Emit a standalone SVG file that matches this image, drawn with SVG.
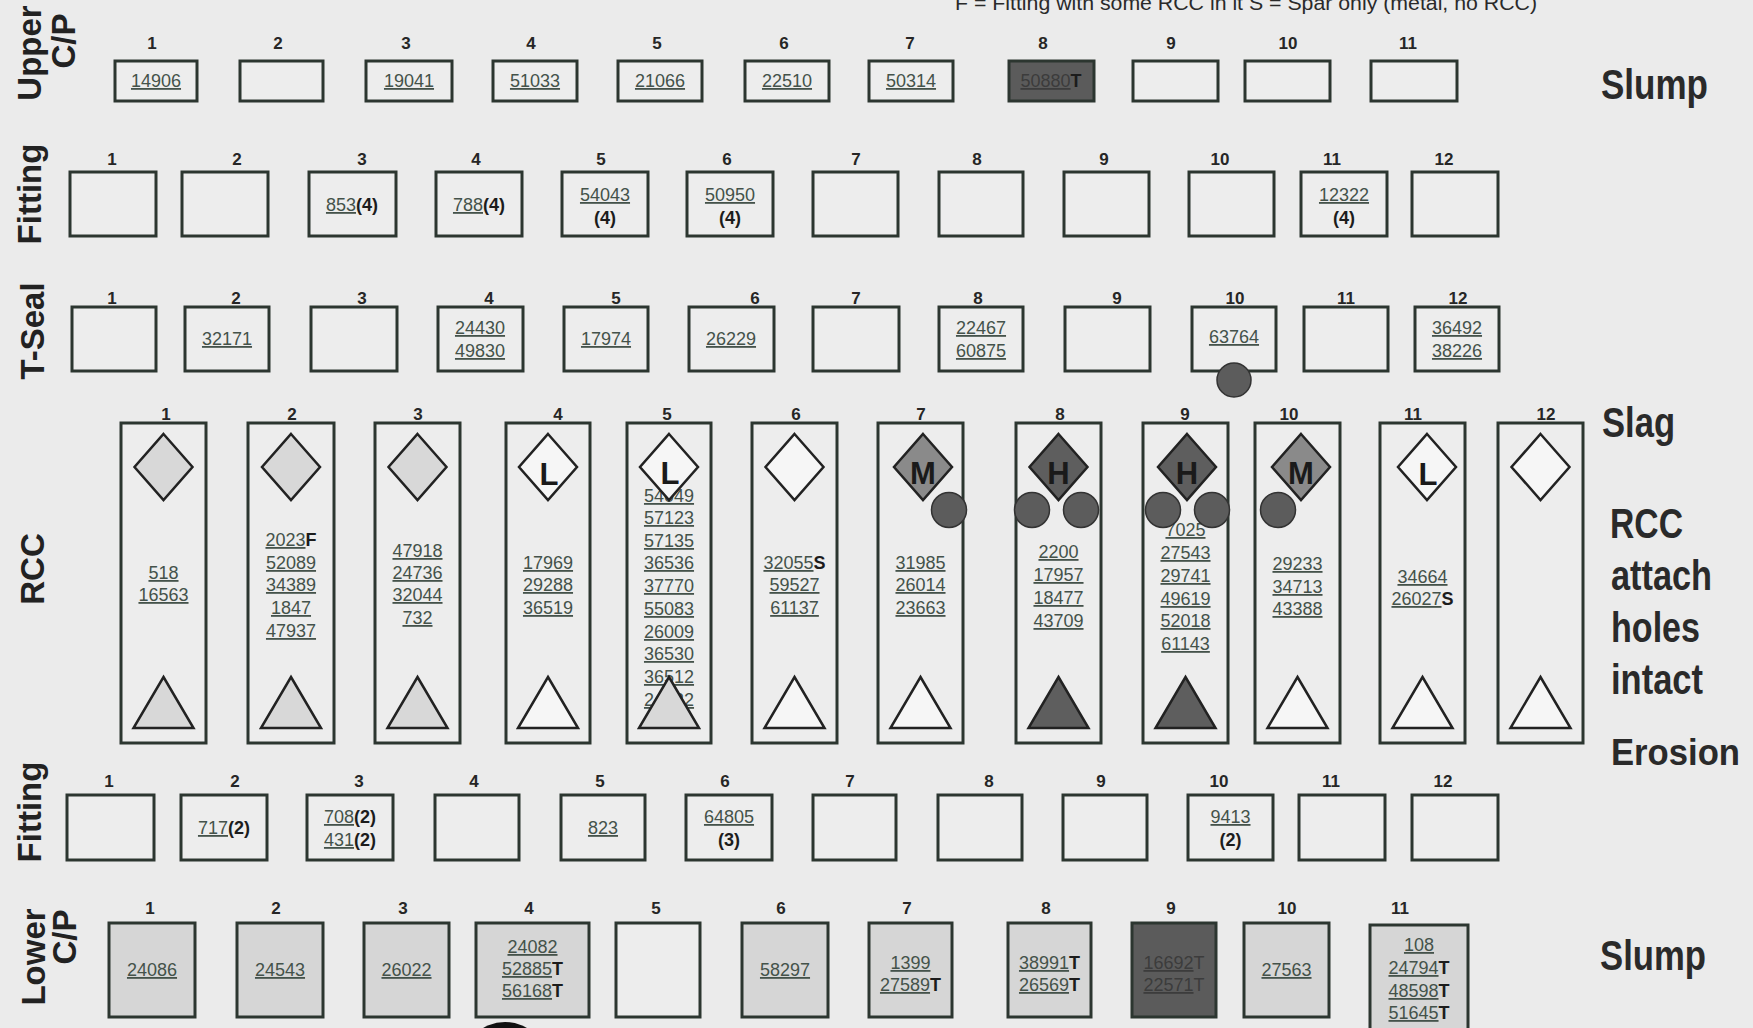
<svg xmlns="http://www.w3.org/2000/svg" width="1753" height="1028" viewBox="0 0 1753 1028">
<style>
.bg{fill:#ebebeb}
.box{fill:#ededed;stroke:#2c3630;stroke-width:3}
.boxg{fill:#d6d6d6;stroke:#2c3630;stroke-width:3}
.boxd{fill:#5b5b5b;stroke:#2c3630;stroke-width:3}
.n{font-family:"Liberation Sans",Arial,sans-serif;font-size:18px;fill:#44524a;text-anchor:middle}
.u{text-decoration:underline}
.b{font-weight:bold;fill:#1c1c1c}
.nd{fill:#3c3c3c}
.col{font-family:"Liberation Sans",Arial,sans-serif;font-size:17px;font-weight:bold;fill:#262626;text-anchor:middle}
.row{font-family:"Liberation Sans",Arial,sans-serif;font-size:33px;font-weight:bold;fill:#222;text-anchor:middle}
.side{font-family:"Liberation Sans",Arial,sans-serif;font-size:42px;font-weight:bold;fill:#2a2a2a}
.shp{stroke:#222;stroke-width:2.5}
.w{fill:#f6f6f6}
.l{fill:#d8d8d8}
.m{fill:#8a8a8a}
.h{fill:#5e5e5e}
.lt{font-family:"Liberation Sans",Arial,sans-serif;font-size:31px;font-weight:bold;fill:#1a1a1a;text-anchor:middle}
.dot{fill:#5c5c5c;stroke:#333;stroke-width:1.5}
.leg{font-family:"Liberation Sans",Arial,sans-serif;font-size:20px;fill:#2a2a2a}
</style>
<rect class="bg" x="0" y="0" width="1753" height="1028"/>

<text class="leg" x="955" y="10" textLength="582" lengthAdjust="spacingAndGlyphs">F = Fitting with some RCC in it   S = Spar only (metal, no RCC)</text>

<!-- Row labels -->
<g id="row-labels">
<text class="row" transform="translate(41,53) rotate(-90)">Upper</text>
<text class="row" transform="translate(75,41) rotate(-90)">C/P</text>
<text class="row" transform="translate(41,194) rotate(-90)">Fitting</text>
<text class="row" transform="translate(44,331) rotate(-90)">T-Seal</text>
<text class="row" transform="translate(44,569) rotate(-90)">RCC</text>
<text class="row" transform="translate(41,812) rotate(-90)">Fitting</text>
<text class="row" transform="translate(45,957) rotate(-90)">Lower</text>
<text class="row" transform="translate(76,937) rotate(-90)">C/P</text>
</g>

<!-- Side labels -->
<g id="side-labels">
<text class="side" x="1601" y="99" textLength="107" lengthAdjust="spacingAndGlyphs">Slump</text>
<text class="side" x="1602" y="437" textLength="73" lengthAdjust="spacingAndGlyphs">Slag</text>
<text class="side" x="1610" y="538" textLength="73" lengthAdjust="spacingAndGlyphs">RCC</text>
<text class="side" x="1611" y="590" textLength="101" lengthAdjust="spacingAndGlyphs">attach</text>
<text class="side" x="1611" y="642" textLength="89" lengthAdjust="spacingAndGlyphs">holes</text>
<text class="side" x="1611" y="694" textLength="92" lengthAdjust="spacingAndGlyphs">intact</text>
<text class="side" x="1611" y="765" style="font-size:37px" textLength="129" lengthAdjust="spacingAndGlyphs">Erosion</text>
<text class="side" x="1600" y="970" textLength="106" lengthAdjust="spacingAndGlyphs">Slump</text>
</g>

<!-- Upper C/P -->
<g id="upper-cp">
<g id="ucp1"><text class="col" x="152" y="49">1</text><rect class="box" x="115" y="61" width="82" height="40"/><text class="n" x="156" y="87"><tspan class="u">14906</tspan></text></g>
<g id="ucp2"><text class="col" x="278" y="49">2</text><rect class="box" x="240" y="61" width="83" height="40"/></g>
<g id="ucp3"><text class="col" x="406" y="49">3</text><rect class="box" x="366" y="61" width="86" height="40"/><text class="n" x="409" y="87"><tspan class="u">19041</tspan></text></g>
<g id="ucp4"><text class="col" x="531" y="49">4</text><rect class="box" x="493" y="61" width="84" height="40"/><text class="n" x="535" y="87"><tspan class="u">51033</tspan></text></g>
<g id="ucp5"><text class="col" x="657" y="49">5</text><rect class="box" x="618" y="61" width="84" height="40"/><text class="n" x="660" y="87"><tspan class="u">21066</tspan></text></g>
<g id="ucp6"><text class="col" x="784" y="49">6</text><rect class="box" x="745" y="61" width="84" height="40"/><text class="n" x="787" y="87"><tspan class="u">22510</tspan></text></g>
<g id="ucp7"><text class="col" x="910" y="49">7</text><rect class="box" x="869" y="61" width="84" height="40"/><text class="n" x="911" y="87"><tspan class="u">50314</tspan></text></g>
<g id="ucp8"><text class="col" x="1043" y="49">8</text><rect class="boxd" x="1009" y="61" width="85" height="40"/><text class="n" x="1051" y="87"><tspan class="u nd">50880</tspan><tspan class="b">T</tspan></text></g>
<g id="ucp9"><text class="col" x="1171" y="49">9</text><rect class="box" x="1133" y="61" width="85" height="40"/></g>
<g id="ucp10"><text class="col" x="1288" y="49">10</text><rect class="box" x="1245" y="61" width="85" height="40"/></g>
<g id="ucp11"><text class="col" x="1408" y="49">11</text><rect class="box" x="1371" y="61" width="86" height="40"/></g>
</g>

<!-- Upper Fitting -->
<g id="upper-fitting">
<g id="uf1"><text class="col" x="112" y="165">1</text><rect class="box" x="70" y="172" width="86" height="64"/></g>
<g id="uf2"><text class="col" x="237" y="165">2</text><rect class="box" x="182" y="172" width="86" height="64"/></g>
<g id="uf3"><text class="col" x="362" y="165">3</text><rect class="box" x="309" y="172" width="87" height="64"/><text class="n" x="352" y="211"><tspan class="u">853</tspan><tspan class="b">(4)</tspan></text></g>
<g id="uf4"><text class="col" x="476" y="165">4</text><rect class="box" x="436" y="172" width="86" height="64"/><text class="n" x="479" y="211"><tspan class="u">788</tspan><tspan class="b">(4)</tspan></text></g>
<g id="uf5"><text class="col" x="601" y="165">5</text><rect class="box" x="562" y="172" width="86" height="64"/><text class="n" x="605" y="201"><tspan class="u">54043</tspan></text><text class="n b" x="605" y="224">(4)</text></g>
<g id="uf6"><text class="col" x="727" y="165">6</text><rect class="box" x="687" y="172" width="86" height="64"/><text class="n" x="730" y="201"><tspan class="u">50950</tspan></text><text class="n b" x="730" y="224">(4)</text></g>
<g id="uf7"><text class="col" x="856" y="165">7</text><rect class="box" x="813" y="172" width="85" height="64"/></g>
<g id="uf8"><text class="col" x="977" y="165">8</text><rect class="box" x="939" y="172" width="84" height="64"/></g>
<g id="uf9"><text class="col" x="1104" y="165">9</text><rect class="box" x="1064" y="172" width="85" height="64"/></g>
<g id="uf10"><text class="col" x="1220" y="165">10</text><rect class="box" x="1189" y="172" width="85" height="64"/></g>
<g id="uf11"><text class="col" x="1332" y="165">11</text><rect class="box" x="1301" y="172" width="86" height="64"/><text class="n" x="1344" y="201"><tspan class="u">12322</tspan></text><text class="n b" x="1344" y="224">(4)</text></g>
<g id="uf12"><text class="col" x="1444" y="165">12</text><rect class="box" x="1412" y="172" width="86" height="64"/></g>
</g>

<!-- T-Seal -->
<g id="tseal">
<g id="ts1"><text class="col" x="112" y="304">1</text><rect class="box" x="72" y="307" width="84" height="64"/></g>
<g id="ts2"><text class="col" x="236" y="304">2</text><rect class="box" x="185" y="307" width="84" height="64"/><text class="n" x="227" y="345"><tspan class="u">32171</tspan></text></g>
<g id="ts3"><text class="col" x="362" y="304">3</text><rect class="box" x="311" y="307" width="86" height="64"/></g>
<g id="ts4"><text class="col" x="489" y="304">4</text><rect class="box" x="438" y="307" width="85" height="64"/><text class="n" x="480" y="334"><tspan class="u">24430</tspan></text><text class="n" x="480" y="357"><tspan class="u">49830</tspan></text></g>
<g id="ts5"><text class="col" x="616" y="304">5</text><rect class="box" x="564" y="307" width="84" height="64"/><text class="n" x="606" y="345"><tspan class="u">17974</tspan></text></g>
<g id="ts6"><text class="col" x="755" y="304">6</text><rect class="box" x="689" y="307" width="85" height="64"/><text class="n" x="731" y="345"><tspan class="u">26229</tspan></text></g>
<g id="ts7"><text class="col" x="856" y="304">7</text><rect class="box" x="813" y="307" width="86" height="64"/></g>
<g id="ts8"><text class="col" x="978" y="304">8</text><rect class="box" x="939" y="307" width="84" height="64"/><text class="n" x="981" y="334"><tspan class="u">22467</tspan></text><text class="n" x="981" y="357"><tspan class="u">60875</tspan></text></g>
<g id="ts9"><text class="col" x="1117" y="304">9</text><rect class="box" x="1065" y="307" width="85" height="64"/></g>
<g id="ts10"><text class="col" x="1235" y="304">10</text><rect class="box" x="1192" y="307" width="84" height="64"/><text class="n" x="1234" y="343"><tspan class="u">63764</tspan></text><circle class="dot" cx="1234" cy="380" r="17"/></g>
<g id="ts11"><text class="col" x="1346" y="304">11</text><rect class="box" x="1304" y="307" width="84" height="64"/></g>
<g id="ts12"><text class="col" x="1458" y="304">12</text><rect class="box" x="1415" y="307" width="84" height="64"/><text class="n" x="1457" y="334"><tspan class="u">36492</tspan></text><text class="n" x="1457" y="357"><tspan class="u">38226</tspan></text></g>
</g>

<!-- RCC -->
<g id="rcc">
<g id="rcc1"><text class="col" x="166" y="420">1</text><rect class="box" x="121" y="423" width="85" height="320"/>
<text class="n" x="163.5" y="579"><tspan class="u">518</tspan></text><text class="n" x="163.5" y="601"><tspan class="u">16563</tspan></text>
<polygon class="shp l" points="163.5,434 192.5,467 163.5,500 134.5,467"/><polygon class="shp l" points="163.5,677 193.5,728 133.5,728"/></g>

<g id="rcc2"><text class="col" x="292" y="420">2</text><rect class="box" x="248" y="423" width="86" height="320"/>
<text class="n" x="291" y="546"><tspan class="u">2023</tspan><tspan class="b">F</tspan></text><text class="n" x="291" y="569"><tspan class="u">52089</tspan></text><text class="n" x="291" y="591"><tspan class="u">34389</tspan></text><text class="n" x="291" y="614"><tspan class="u">1847</tspan></text><text class="n" x="291" y="637"><tspan class="u">47937</tspan></text>
<polygon class="shp l" points="291,434 320,467 291,500 262,467"/><polygon class="shp l" points="291,677 321,728 261,728"/></g>

<g id="rcc3"><text class="col" x="418" y="420">3</text><rect class="box" x="375" y="423" width="85" height="320"/>
<text class="n" x="417.5" y="557"><tspan class="u">47918</tspan></text><text class="n" x="417.5" y="579"><tspan class="u">24736</tspan></text><text class="n" x="417.5" y="601"><tspan class="u">32044</tspan></text><text class="n" x="417.5" y="624"><tspan class="u">732</tspan></text>
<polygon class="shp l" points="417.5,434 446.5,467 417.5,500 388.5,467"/><polygon class="shp l" points="417.5,677 447.5,728 387.5,728"/></g>

<g id="rcc4"><text class="col" x="558" y="420">4</text><rect class="box" x="506" y="423" width="84" height="320"/>
<text class="n" x="548" y="569"><tspan class="u">17969</tspan></text><text class="n" x="548" y="591"><tspan class="u">29288</tspan></text><text class="n" x="548" y="614"><tspan class="u">36519</tspan></text>
<polygon class="shp w" points="548,434 577,467 548,500 519,467"/><text class="lt" x="549" y="485">L</text><polygon class="shp w" points="548,677 578,728 518,728"/></g>

<g id="rcc5"><text class="col" x="667" y="420">5</text><rect class="box" x="627" y="423" width="84" height="320"/>
<text class="n" x="669" y="502"><tspan class="u">54049</tspan></text><text class="n" x="669" y="524"><tspan class="u">57123</tspan></text><text class="n" x="669" y="547"><tspan class="u">57135</tspan></text><text class="n" x="669" y="569"><tspan class="u">36536</tspan></text><text class="n" x="669" y="592"><tspan class="u">37770</tspan></text><text class="n" x="669" y="615"><tspan class="u">55083</tspan></text><text class="n" x="669" y="638"><tspan class="u">26009</tspan></text><text class="n" x="669" y="660"><tspan class="u">36530</tspan></text><text class="n" x="669" y="683"><tspan class="u">36512</tspan></text><text class="n" x="669" y="706"><tspan class="u">24632</tspan></text>
<polygon class="shp w" points="669,434 698,467 669,500 640,467"/><text class="lt" x="670" y="484">L</text><polygon class="shp l" points="669,677 699,728 639,728"/></g>

<g id="rcc6"><text class="col" x="796" y="420">6</text><rect class="box" x="752" y="423" width="85" height="320"/>
<text class="n" x="794.5" y="569"><tspan class="u">32055</tspan><tspan class="b">S</tspan></text><text class="n" x="794.5" y="591"><tspan class="u">59527</tspan></text><text class="n" x="794.5" y="614"><tspan class="u">61137</tspan></text>
<polygon class="shp w" points="794.5,434 823.5,467 794.5,500 765.5,467"/><polygon class="shp w" points="794.5,677 824.5,728 764.5,728"/></g>

<g id="rcc7"><text class="col" x="921" y="420">7</text><rect class="box" x="878" y="423" width="85" height="320"/>
<text class="n" x="920.5" y="569"><tspan class="u">31985</tspan></text><text class="n" x="920.5" y="591"><tspan class="u">26014</tspan></text><text class="n" x="920.5" y="614"><tspan class="u">23663</tspan></text>
<polygon class="shp m" points="923,434 952,467 923,500 894,467"/><text class="lt" x="923" y="484">M</text><circle class="dot" cx="949" cy="510" r="17.5"/><polygon class="shp w" points="920.5,677 950.5,728 890.5,728"/></g>

<g id="rcc8"><text class="col" x="1060" y="420">8</text><rect class="box" x="1016" y="423" width="85" height="320"/>
<text class="n" x="1058.5" y="558"><tspan class="u">2200</tspan></text><text class="n" x="1058.5" y="581"><tspan class="u">17957</tspan></text><text class="n" x="1058.5" y="604"><tspan class="u">18477</tspan></text><text class="n" x="1058.5" y="627"><tspan class="u">43709</tspan></text>
<polygon class="shp h" points="1058.5,434 1087.5,467 1058.5,500 1029.5,467"/><text class="lt" x="1058.5" y="484">H</text><circle class="dot" cx="1032" cy="510" r="17.5"/><circle class="dot" cx="1081" cy="510" r="17.5"/><polygon class="shp h" points="1058.5,677 1088.5,728 1028.5,728"/></g>

<g id="rcc9"><text class="col" x="1185" y="420">9</text><rect class="box" x="1143" y="423" width="85" height="320"/>
<text class="n" x="1185.5" y="536"><tspan class="u">7025</tspan></text><text class="n" x="1185.5" y="559"><tspan class="u">27543</tspan></text><text class="n" x="1185.5" y="582"><tspan class="u">29741</tspan></text><text class="n" x="1185.5" y="605"><tspan class="u">49619</tspan></text><text class="n" x="1185.5" y="627"><tspan class="u">52018</tspan></text><text class="n" x="1185.5" y="650"><tspan class="u">61143</tspan></text>
<polygon class="shp h" points="1187,434 1216,467 1187,500 1158,467"/><text class="lt" x="1187" y="484">H</text><circle class="dot" cx="1163" cy="510" r="17.5"/><circle class="dot" cx="1212" cy="510" r="17.5"/><polygon class="shp h" points="1185.5,677 1215.5,728 1155.5,728"/></g>

<g id="rcc10"><text class="col" x="1289" y="420">10</text><rect class="box" x="1255" y="423" width="85" height="320"/>
<text class="n" x="1297.5" y="570"><tspan class="u">29233</tspan></text><text class="n" x="1297.5" y="593"><tspan class="u">34713</tspan></text><text class="n" x="1297.5" y="615"><tspan class="u">43388</tspan></text>
<polygon class="shp m" points="1301,434 1330,467 1301,500 1272,467"/><text class="lt" x="1301" y="484">M</text><circle class="dot" cx="1278" cy="510" r="17.5"/><polygon class="shp w" points="1297.5,677 1327.5,728 1267.5,728"/></g>

<g id="rcc11"><text class="col" x="1413" y="420">11</text><rect class="box" x="1380" y="423" width="85" height="320"/>
<text class="n" x="1422.5" y="583"><tspan class="u">34664</tspan></text><text class="n" x="1422.5" y="605"><tspan class="u">26027</tspan><tspan class="b">S</tspan></text>
<polygon class="shp w" points="1427,434 1456,467 1427,500 1398,467"/><text class="lt" x="1428" y="485">L</text><polygon class="shp w" points="1422.5,677 1452.5,728 1392.5,728"/></g>

<g id="rcc12"><text class="col" x="1546" y="420">12</text><rect class="box" x="1498" y="423" width="85" height="320"/>
<polygon class="shp w" points="1540.5,434 1569.5,467 1540.5,500 1511.5,467"/><polygon class="shp w" points="1540.5,677 1570.5,728 1510.5,728"/></g>
</g>

<!-- Lower Fitting -->
<g id="lower-fitting">
<g id="lf1"><text class="col" x="109" y="787">1</text><rect class="box" x="67" y="795" width="87" height="65"/></g>
<g id="lf2"><text class="col" x="235" y="787">2</text><rect class="box" x="181" y="795" width="86" height="65"/><text class="n" x="224" y="834"><tspan class="u">717</tspan><tspan class="b">(2)</tspan></text></g>
<g id="lf3"><text class="col" x="359" y="787">3</text><rect class="box" x="307" y="795" width="86" height="65"/><text class="n" x="350" y="823"><tspan class="u">708</tspan><tspan class="b">(2)</tspan></text><text class="n" x="350" y="846"><tspan class="u">431</tspan><tspan class="b">(2)</tspan></text></g>
<g id="lf4"><text class="col" x="474" y="787">4</text><rect class="box" x="435" y="795" width="84" height="65"/></g>
<g id="lf5"><text class="col" x="600" y="787">5</text><rect class="box" x="561" y="795" width="84" height="65"/><text class="n" x="603" y="834"><tspan class="u">823</tspan></text></g>
<g id="lf6"><text class="col" x="725" y="787">6</text><rect class="box" x="686" y="795" width="86" height="65"/><text class="n" x="729" y="823"><tspan class="u">64805</tspan></text><text class="n b" x="729" y="846">(3)</text></g>
<g id="lf7"><text class="col" x="850" y="787">7</text><rect class="box" x="813" y="795" width="83" height="65"/></g>
<g id="lf8"><text class="col" x="989" y="787">8</text><rect class="box" x="938" y="795" width="84" height="65"/></g>
<g id="lf9"><text class="col" x="1101" y="787">9</text><rect class="box" x="1063" y="795" width="84" height="65"/></g>
<g id="lf10"><text class="col" x="1219" y="787">10</text><rect class="box" x="1188" y="795" width="85" height="65"/><text class="n" x="1230.5" y="823"><tspan class="u">9413</tspan></text><text class="n b" x="1230.5" y="846">(2)</text></g>
<g id="lf11"><text class="col" x="1331" y="787">11</text><rect class="box" x="1299" y="795" width="86" height="65"/></g>
<g id="lf12"><text class="col" x="1443" y="787">12</text><rect class="box" x="1412" y="795" width="86" height="65"/></g>
</g>

<!-- Lower C/P -->
<g id="lower-cp">
<g id="lcp1"><text class="col" x="150" y="914">1</text><rect class="boxg" x="109" y="923" width="86" height="94"/><text class="n" x="152" y="976"><tspan class="u">24086</tspan></text></g>
<g id="lcp2"><text class="col" x="276" y="914">2</text><rect class="boxg" x="237" y="923" width="86" height="94"/><text class="n" x="280" y="976"><tspan class="u">24543</tspan></text></g>
<g id="lcp3"><text class="col" x="403" y="914">3</text><rect class="boxg" x="364" y="923" width="85" height="94"/><text class="n" x="406.5" y="976"><tspan class="u">26022</tspan></text></g>
<g id="lcp4"><text class="col" x="529" y="914">4</text><rect class="boxg" x="476" y="923" width="113" height="94"/><text class="n" x="532.5" y="953"><tspan class="u">24082</tspan></text><text class="n" x="532.5" y="975"><tspan class="u">52885</tspan><tspan class="b">T</tspan></text><text class="n" x="532.5" y="997"><tspan class="u">56168</tspan><tspan class="b">T</tspan></text></g>
<g id="lcp5"><text class="col" x="656" y="914">5</text><rect class="box" x="616" y="923" width="84" height="94"/></g>
<g id="lcp6"><text class="col" x="781" y="914">6</text><rect class="boxg" x="742" y="923" width="86" height="94"/><text class="n" x="785" y="976"><tspan class="u">58297</tspan></text></g>
<g id="lcp7"><text class="col" x="907" y="914">7</text><rect class="boxg" x="869" y="923" width="83" height="94"/><text class="n" x="910.5" y="969"><tspan class="u">1399</tspan></text><text class="n" x="910.5" y="991"><tspan class="u">27589</tspan><tspan class="b">T</tspan></text></g>
<g id="lcp8"><text class="col" x="1046" y="914">8</text><rect class="boxg" x="1008" y="923" width="83" height="94"/><text class="n" x="1049.5" y="969"><tspan class="u">38991</tspan><tspan class="b">T</tspan></text><text class="n" x="1049.5" y="991"><tspan class="u">26569</tspan><tspan class="b">T</tspan></text></g>
<g id="lcp9"><text class="col" x="1171" y="914">9</text><rect class="boxd" x="1132" y="923" width="84" height="94"/><text class="n" x="1174" y="969"><tspan class="u nd">16692</tspan><tspan class="nd">T</tspan></text><text class="n" x="1174" y="991"><tspan class="u nd">22571</tspan><tspan class="nd">T</tspan></text></g>
<g id="lcp10"><text class="col" x="1287" y="914">10</text><rect class="boxg" x="1244" y="923" width="85" height="94"/><text class="n" x="1286.5" y="976"><tspan class="u">27563</tspan></text></g>
<g id="lcp11"><text class="col" x="1400" y="914">11</text><rect class="boxg" x="1370" y="925" width="98" height="106"/><text class="n" x="1419" y="951"><tspan class="u">108</tspan></text><text class="n" x="1419" y="974"><tspan class="u">24794</tspan><tspan class="b">T</tspan></text><text class="n" x="1419" y="997"><tspan class="u">48598</tspan><tspan class="b">T</tspan></text><text class="n" x="1419" y="1019"><tspan class="u">51645</tspan><tspan class="b">T</tspan></text></g>
</g>

<circle cx="505" cy="1065" r="43" fill="#111"/>
</svg>
